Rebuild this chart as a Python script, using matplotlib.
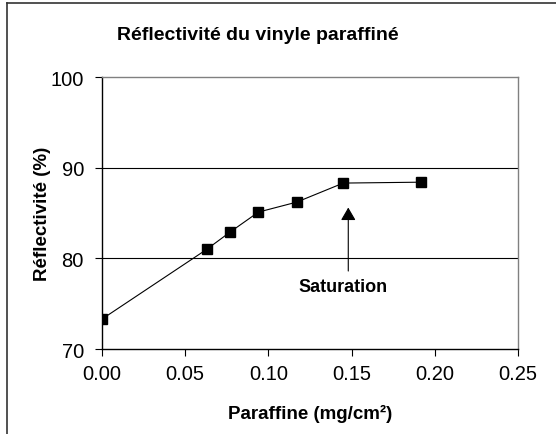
import matplotlib
matplotlib.use("Agg")
import matplotlib.pyplot as plt
from matplotlib.lines import Line2D

plt.rcParams['font.family'] = ['Liberation Sans', 'DejaVu Sans']

paraffine = [0.0, 0.063, 0.077, 0.094, 0.117, 0.145, 0.192]
reflectivite = [73.3, 81.0, 82.9, 85.1, 86.2, 88.3, 88.4]
x_ticks = [0.00, 0.05, 0.10, 0.15, 0.20, 0.25]
x_ticklabels = ["0.00", "0.05", "0.10", "0.15", "0.20", "0.25"]
y_ticks = [70, 80, 90, 100]
title = "Réflectivité du vinyle paraffiné"
xlabel = "Paraffine (mg/cm²)"
ylabel = "Réflectivité (%)"
annot_text = "Saturation"
annot_xy = (0.148, 85.6)
annot_text_xy = (0.1446, 76.9)

fig = plt.figure(figsize=(5.56, 4.35), dpi=100)
ax = fig.add_axes([102/556, 1-350/435, (518-102)/556, (350-78)/435])

ax.set_xlim(0, 0.25)
ax.set_ylim(70, 100)
ax.set_xticks(x_ticks)
ax.set_xticklabels(x_ticklabels)
ax.set_yticks(y_ticks)

for yv in y_ticks[1:3]:
    ax.axhline(yv, color='black', lw=0.8, zorder=1)

ax.plot(paraffine, reflectivite, color='black', lw=0.8, marker='s',
        markersize=7, markerfacecolor='black', markeredgecolor='black', zorder=3)

ax.annotate("", xy=annot_xy, xytext=(annot_xy[0], 78.6),
            arrowprops=dict(arrowstyle='-|>,head_length=0.6,head_width=0.35', color='black', lw=0.8,
                            mutation_scale=13, shrinkA=0, shrinkB=0))
ax.text(annot_text_xy[0], annot_text_xy[1], annot_text, ha='center', va='center',
        fontsize=13, fontweight='bold')

for s in ['top', 'right']:
    ax.spines[s].set_color('#808080')
    ax.spines[s].set_linewidth(1.0)
for s in ['left', 'bottom']:
    ax.spines[s].set_color('black')
    ax.spines[s].set_linewidth(1.0)

ax.tick_params(axis='both', direction='out', length=5, width=0.8, labelsize=14.5)
ax.tick_params(axis='x', pad=6)
ax.tick_params(axis='y', pad=8)

ax.set_xlabel(xlabel, fontsize=13.5, fontweight='bold', labelpad=15)
ax.set_ylabel(ylabel, fontsize=13.5, fontweight='bold', labelpad=0)
fig.text(258/556, 1-36/435, title, ha='center', va='center', fontsize=14, fontweight='bold')

# figure frame (left and top edges visible)
fig.add_artist(Line2D([7/556, 7/556], [0, 1-4/435], transform=fig.transFigure, color='#333333', lw=1.2))
fig.add_artist(Line2D([7/556, 1], [1-4/435, 1-4/435], transform=fig.transFigure, color='#333333', lw=1.2))

fig.savefig("out.png", dpi=100)
